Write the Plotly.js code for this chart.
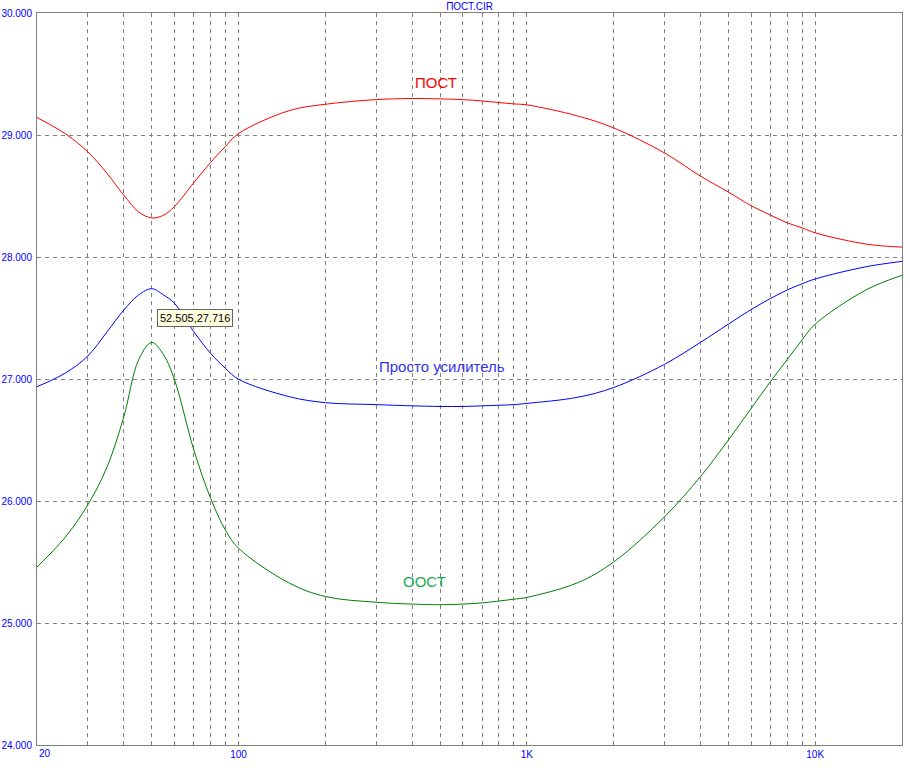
<!DOCTYPE html>
<html>
<head>
<meta charset="utf-8">
<script src="https://cdn.plot.ly/plotly-3.0.1.min.js"></script>
<style>html,body{margin:0;padding:0;background:#fff;}#chart{width:910px;height:780px;}</style>
</head>
<body>
<div id="chart"></div>
<script>
// Frequency points (Hz)
const freq = [20,25,30,35,40,45,50,55,60,70,80,90,100,150,200,300,400,500,600,700,800,900,1000,1500,2000,3000,4000,5000,6000,7000,8000,9000,10000,15000,20000];
// ПОСТ (red)
const post = [29.143,29.012,28.862,28.685,28.507,28.37,28.32,28.343,28.415,28.61,28.775,28.905,29.012,29.2,29.252,29.29,29.299,29.296,29.29,29.279,29.266,29.255,29.247,29.156,29.058,28.853,28.663,28.532,28.42,28.343,28.28,28.239,28.198,28.106,28.081];
// Просто усилитель (blue)
const amp = [26.937,27.047,27.188,27.387,27.565,27.688,27.74,27.688,27.62,27.387,27.21,27.088,26.998,26.855,26.806,26.79,26.78,26.775,26.775,26.78,26.785,26.79,26.80,26.85,26.93,27.12,27.30,27.45,27.57,27.66,27.73,27.78,27.82,27.92,27.964];
// ООСТ (green)
const oost = [25.458,25.70,25.968,26.28,26.69,27.156,27.30,27.197,26.992,26.418,26.023,25.763,25.613,25.327,25.217,25.17,25.155,25.15,25.155,25.165,25.18,25.195,25.21,25.33,25.50,25.87,26.20,26.50,26.76,26.98,27.16,27.32,27.45,27.73,27.85];

// Grid / tick positions and labels
const xGrid = [20,30,40,50,60,70,80,90,100,200,300,400,500,600,700,800,900,1000,2000,3000,4000,5000,6000,7000,8000,9000,10000,20000];
const xLabels = {100:'100',1000:'1K',10000:'10K',20000:'20K'};
const firstLabel = '20';
const yTicks = [24,25,26,27,28,29,30];
const cursorText = '52.505,27.716';

const font = '"Liberation Sans", Arial, sans-serif';

const traces = [
  {x: freq, y: post, mode:'lines', line:{color:'#ff0000', width:1, shape:'spline', smoothing:1}},
  {x: freq, y: amp, mode:'lines', line:{color:'#0000ff', width:1, shape:'spline', smoothing:1}},
  {x: freq, y: oost, mode:'lines', line:{color:'#008000', width:1, shape:'spline', smoothing:1}}
];

const layout = {
  width: 910, height: 780,
  margin: {l:37, r:8, t:12.7, b:35},
  paper_bgcolor:'#ffffff', plot_bgcolor:'#ffffff',
  showlegend:false,
  font:{family:font, size:10, color:'#0000ff'},
  title:{text:'ПОСТ.CIR', font:{family:font, size:10, color:'#0000ff'}, x:0.516, xanchor:'center', y:1-6/780, yanchor:'middle', yref:'container'},
  xaxis:{
    type:'log', range:[Math.log10(20), Math.log10(20000)],
    tickvals:xGrid, ticktext:xGrid.map(v => xLabels[v] || ''),
    ticks:'', showline:true, mirror:true, linecolor:'#808080', linewidth:1,
    showgrid:true, gridcolor:'#808080', gridwidth:1, griddash:'4px,4px',
    zeroline:false, tickfont:{family:font, size:10, color:'#0000ff'}, ticklabelstandoff:0
  },
  yaxis:{
    range:[24,30], tickvals:yTicks, tickformat:'.3f',
    ticks:'', showline:true, mirror:true, linecolor:'#808080', linewidth:1,
    showgrid:true, gridcolor:'#808080', gridwidth:1, griddash:'4px,4px',
    zeroline:false, tickfont:{family:font, size:10, color:'#0000ff'}, ticklabelstandoff:2
  },
  annotations:[
    {text:firstLabel, xref:'paper', yref:'paper', x:0, y:0, xanchor:'left', yanchor:'top', yshift:-1, showarrow:false, font:{family:font, size:10, color:'#0000ff'}},
    {text:'ПОСТ', xref:'paper', yref:'paper', x:0.4613, y:0.9044, xanchor:'center', yanchor:'middle', showarrow:false, font:{family:font, size:15, color:'#ff0000'}},
    {text:'Просто усилитель', xref:'paper', yref:'paper', x:0.4679, y:0.5164, xanchor:'center', yanchor:'middle', showarrow:false, font:{family:font, size:15, color:'#3333ee'}},
    {text:'ООСТ', xref:'paper', yref:'paper', x:0.4482, y:0.2239, xanchor:'center', yanchor:'middle', showarrow:false, font:{family:font, size:15, color:'#22aa55'}},
    {text:cursorText, xref:'paper', yref:'paper', x:0.1821, y:0.5831, xanchor:'center', yanchor:'middle', showarrow:false, bgcolor:'#ffffe1', bordercolor:'#646464', borderwidth:1, borderpad:2, font:{family:font, size:11, color:'#000000'}}
  ]
};

Plotly.newPlot('chart', traces, layout, {staticPlot:true, displayModeBar:false});
</script>
</body>
</html>
